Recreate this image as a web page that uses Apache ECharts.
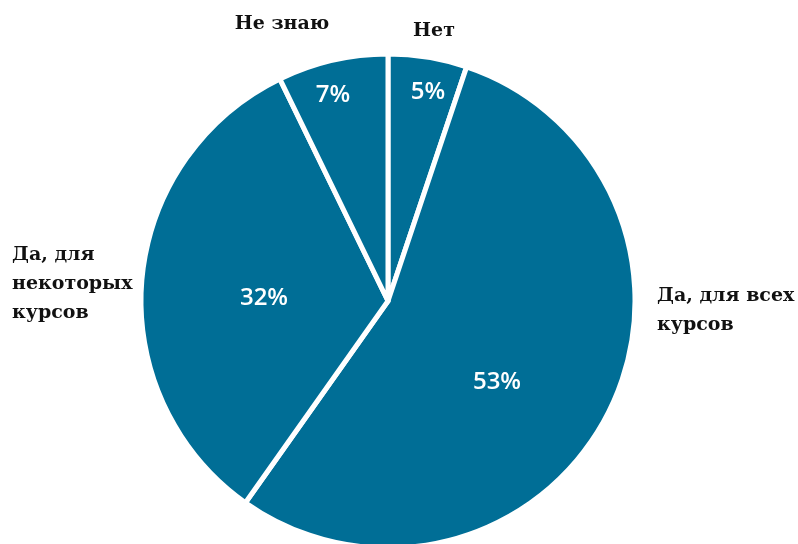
<!DOCTYPE html>
<html>
<head>
<meta charset="utf-8">
<script src="https://cdn.jsdelivr.net/npm/echarts@6/dist/echarts.min.js"></script>
<style>
  html, body { margin: 0; padding: 0; background: #ffffff; }
  #chart { width: 798px; height: 544px; }
</style>
</head>
<body>
<div id="chart"></div>
<script>
// Survey answers, clockwise from 12 o'clock
const categories = ['Нет', 'Да, для всех\nкурсов', 'Да, для\nнекоторых\nкурсов', 'Не знаю'];
const shares = [5, 53, 32, 7];

// Where the percentage labels and category captions sit (pixels)
const valueLabelPos = [[428, 92], [497, 382], [264, 298], [333, 95]];
const nameLabelPos = [[434, 31], [657, 311], [12, 284], [282, 24]];
const nameLabelAlign = ['center', 'left', 'left', 'center'];

const BLUE = '#006e96';
const data = categories.map((name, i) => ({ name, value: shares[i] }));

const chart = echarts.init(document.getElementById('chart'), null, { renderer: 'canvas' });
chart.setOption({
  animation: false,
  backgroundColor: '#ffffff',
  series: [
    {
      // the pie itself, with the percentage inside each slice
      type: 'pie',
      center: [388, 301],
      radius: 247,
      startAngle: 90,
      clockwise: true,
      data,
      itemStyle: { color: BLUE, borderColor: '#ffffff', borderWidth: 5 },
      label: {
        show: true,
        position: 'inside',
        formatter: p => p.value + '%',
        color: '#ffffff',
        fontFamily: 'Open Sans',
        fontWeight: 600,
        fontSize: 24
      },
      labelLine: { show: false },
      labelLayout: p => ({
        x: valueLabelPos[p.dataIndex][0],
        y: valueLabelPos[p.dataIndex][1],
        align: 'center',
        verticalAlign: 'middle'
      }),
      emphasis: { disabled: true }
    },
    {
      // invisible copy that carries the category captions
      type: 'pie',
      center: [388, 301],
      radius: 247,
      startAngle: 90,
      clockwise: true,
      data,
      silent: true,
      itemStyle: { color: 'rgba(0,0,0,0)', borderWidth: 0 },
      label: {
        show: true,
        position: 'outside',
        formatter: p => p.name,
        color: '#111111',
        fontFamily: 'DejaVu Serif',
        fontWeight: 'bold',
        fontSize: 19,
        lineHeight: 29,
        overflow: 'none',
        width: 300
      },
      labelLine: { show: false },
      labelLayout: p => ({
        x: nameLabelPos[p.dataIndex][0],
        y: nameLabelPos[p.dataIndex][1],
        align: nameLabelAlign[p.dataIndex],
        verticalAlign: 'middle'
      }),
      emphasis: { disabled: true }
    }
  ]
});
</script>
</body>
</html>
